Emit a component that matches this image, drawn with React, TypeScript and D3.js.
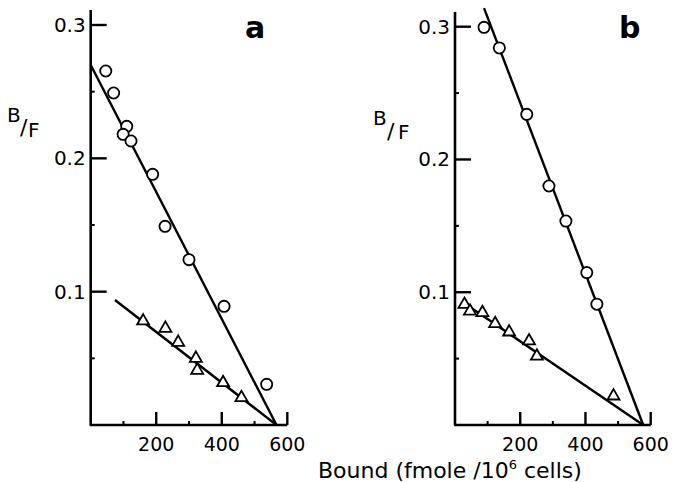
import React from 'react';
import * as d3 from 'd3';

// panel a
const circlesA: [number, number][] = [
  [46, 0.2655], [70, 0.249], [110, 0.224], [99, 0.218], [123, 0.213],
  [189, 0.188], [227, 0.149], [300, 0.124], [407, 0.089], [537, 0.0305],
];
const trianglesA: [number, number][] = [
  [160, 0.078], [228, 0.0725], [267, 0.062], [321, 0.050], [325, 0.041],
  [404, 0.0317], [460, 0.0205],
];
const fitCirclesA: [number, number][] = [[0, 0.270], [567, 0]];
const fitTrianglesA: [number, number][] = [[74, 0.0938], [567, 0]];

// panel b
const circlesB: [number, number][] = [
  [89, 0.2995], [136, 0.284], [220, 0.234], [288, 0.180], [340, 0.1536],
  [404, 0.1148], [435, 0.091],
];
const trianglesB: [number, number][] = [
  [29, 0.0908], [46, 0.0858], [84, 0.0846], [123, 0.0763], [166, 0.070],
  [227, 0.0633], [251, 0.0518], [486, 0.0218],
];
const fitCirclesB: [number, number][] = [[89, 0.314], [577, 0]];
const fitTrianglesB: [number, number][] = [[24, 0.0925], [577, 0]];

const xMajor = [200, 400, 600];
const xMinor = [100, 300, 500];
const yMajor = [0.1, 0.2, 0.3];
const yMinor = [0.05, 0.15, 0.25];

const FONT = '"DejaVu Sans", Arial, sans-serif';

interface PanelProps {
  letter: string;
  circles: [number, number][];
  triangles: [number, number][];
  fitC: [number, number][];
  fitT: [number, number][];
  x0: number;
  x1: number;
  yTop: number;
  axisTop: number;
  letterX: number;
  bfX: number;
  bfRaised: boolean;
}

const Panel: React.FC<PanelProps> = (p) => {
  const x = d3.scaleLinear().domain([0, 600]).range([p.x0, p.x1]);
  const y = d3.scaleLinear().domain([0, 0.3]).range([425, p.yTop]);
  const line = d3.line<[number, number]>().x(d => x(d[0])).y(d => y(d[1]));
  const tri = d3.symbol().type(d3.symbolTriangle).size(62)()!;
  const fmt = d3.format('.1f');

  return (
    <g>
      {/* axes */}
      <line x1={x(0)} x2={x(0)} y1={p.axisTop} y2={y(0)} stroke="#000" strokeWidth={2.6} />
      <line x1={x(0) - 1} x2={x(600)} y1={y(0)} y2={y(0)} stroke="#000" strokeWidth={2.6} />
      {yMajor.map(t => (
        <g key={'ym' + t}>
          <line x1={x(0)} x2={x(0) + 16} y1={y(t)} y2={y(t)} stroke="#000" strokeWidth={2.4} />
          <text x={x(0) - 5} y={y(t) + 7} textAnchor="end" fontSize={20} fontFamily={FONT}>
            {fmt(t)}
          </text>
        </g>
      ))}
      {yMinor.map(t => (
        <line key={'yn' + t} x1={x(0)} x2={x(0) + 4} y1={y(t)} y2={y(t)} stroke="#000" strokeWidth={2} />
      ))}
      {xMajor.map(t => (
        <g key={'xm' + t}>
          <line x1={x(t)} x2={x(t)} y1={y(0)} y2={y(0) - 13} stroke="#000" strokeWidth={2.4} />
          <text x={x(t)} y={451} textAnchor="middle" fontSize={19} fontFamily={FONT}>
            {t}
          </text>
        </g>
      ))}
      {xMinor.map(t => (
        <line key={'xn' + t} x1={x(t)} x2={x(t)} y1={y(0)} y2={y(0) - 4} stroke="#000" strokeWidth={2} />
      ))}

      {/* fitted lines */}
      <path d={line(p.fitC)!} fill="none" stroke="#000" strokeWidth={2.4} />
      <path d={line(p.fitT)!} fill="none" stroke="#000" strokeWidth={2.4} />

      {/* points */}
      {p.circles.map((d, i) => (
        <circle key={'c' + i} cx={x(d[0])} cy={y(d[1])} r={5.6} fill="#fff" stroke="#000" strokeWidth={1.8} />
      ))}
      {p.triangles.map((d, i) => (
        <path key={'t' + i} d={tri} transform={`translate(${x(d[0])},${y(d[1])})`}
          fill="#fff" stroke="#000" strokeWidth={1.8} />
      ))}

      {/* panel letter */}
      <text x={p.letterX} y={38} fontSize={30} fontWeight="bold" fontFamily={FONT}>{p.letter}</text>

      {/* B/F label */}
      {p.bfRaised ? (
        <g fontFamily={FONT}>
          <text x={p.bfX} y={122} fontSize={20}>B</text>
          <text x={p.bfX + 13} y={135} fontSize={22}>/</text>
          <text x={p.bfX + 21} y={137} fontSize={20}>F</text>
        </g>
      ) : (
        <g fontFamily={FONT}>
          <text x={p.bfX} y={125} fontSize={20}>B</text>
          <text x={p.bfX + 14} y={139} fontSize={22}>/</text>
          <text x={p.bfX + 25} y={139} fontSize={20}>F</text>
        </g>
      )}
    </g>
  );
};

export default function App() {
  return (
    <svg width={675} height={482} style={{ position: 'absolute', left: 0, top: 0, background: '#fff' }}>
      <rect width={675} height={482} fill="#fff" />
      <Panel letter="a" circles={circlesA} triangles={trianglesA} fitC={fitCirclesA} fitT={fitTrianglesA}
        x0={90.7} x1={287.3} yTop={25} axisTop={10} letterX={245} bfX={7} bfRaised={true} />
      <Panel letter="b" circles={circlesB} triangles={trianglesB} fitC={fitCirclesB} fitT={fitTrianglesB}
        x0={455} x1={650.7} yTop={26.7} axisTop={12} letterX={619} bfX={373} bfRaised={false} />
      <text x={318} y={478} fontSize={22} fontFamily={FONT}>
        Bound (fmole /10<tspan dy={-9} fontSize={13}>6</tspan><tspan dy={9}> cells)</tspan>
      </text>
    </svg>
  );
}
